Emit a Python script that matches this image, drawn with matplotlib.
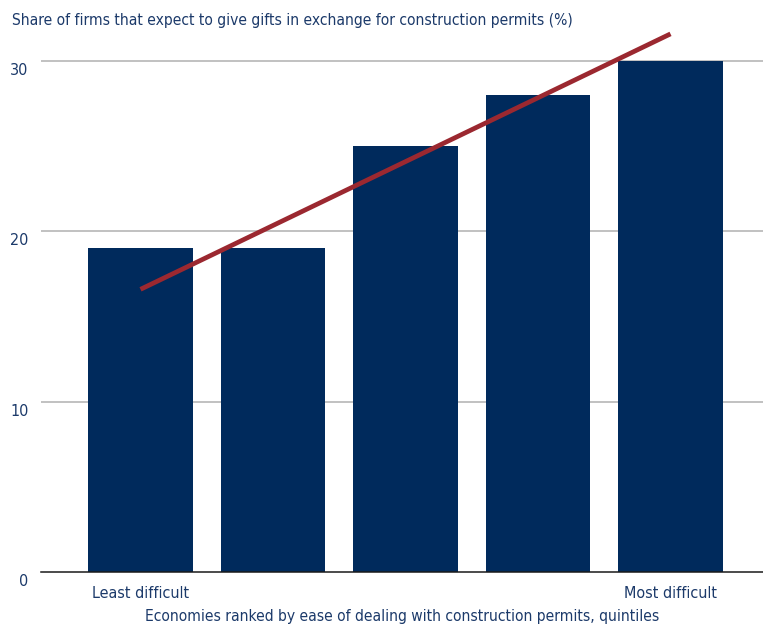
import matplotlib
matplotlib.use("Agg")
import matplotlib.pyplot as plt
import matplotlib.transforms as mtransforms

# data
quintiles = [0, 1, 2, 3, 4]
share_gifts = [19, 19, 25, 28, 30]
trend_x = [0, 4]
trend_y = [16.6, 31.6]
y_ticks = [0, 10, 20, 30]
end_labels = ["Least difficult", "Most difficult"]

TEXT = "#1c3a6a"
BAR = "#002a5c"
TREND = "#9b2830"

plt.rcParams["font.family"] = ["DejaVu Sans"]
plt.rcParams["font.stretch"] = "condensed"

fig = plt.figure(figsize=(7.63, 6.27), dpi=100)
ax = fig.add_axes([41 / 763, 55 / 627, 1 - 41 / 763, 1 - 55 / 627])

ax.bar(quintiles, share_gifts, width=0.79, color=BAR, zorder=2)
ax.plot(trend_x, trend_y, color=TREND, lw=3.4, solid_capstyle="butt", zorder=3, clip_on=False)

ax.set_xlim(-0.751, 4.698)
ax.set_ylim(0, 33.59)

ax.set_yticks(y_ticks)
for y in y_ticks[1:]:
    ax.axhline(y, color="#bcbcbc", lw=1.3, zorder=1)
ax.axhline(0, color="#1a1a1a", lw=1.1, zorder=4, clip_on=False)

ax.tick_params(axis="y", length=0, pad=9, labelsize=11.5, labelcolor=TEXT)
offset = mtransforms.ScaledTranslation(0, -2 / 100, fig.dpi_scale_trans)
for lab in ax.get_yticklabels():
    lab.set_verticalalignment("top")
    lab.set_transform(lab.get_transform() + offset)

ax.set_xticks([quintiles[0], quintiles[-1]])
ax.set_xticklabels(end_labels)
ax.tick_params(axis="x", length=0, pad=10, labelsize=11.5, labelcolor=TEXT)

ax.set_xlabel("Economies ranked by ease of dealing with construction permits, quintiles",
              fontsize=11.2, color=TEXT, labelpad=6)

for s in ("top", "right", "left", "bottom"):
    ax.spines[s].set_visible(False)

fig.text(12 / 763, 1 - 20 / 627,
         "Share of firms that expect to give gifts in exchange for construction permits (%)",
         fontsize=11.2, color=TEXT, ha="left", va="center")

fig.savefig("out.png", dpi=100)
